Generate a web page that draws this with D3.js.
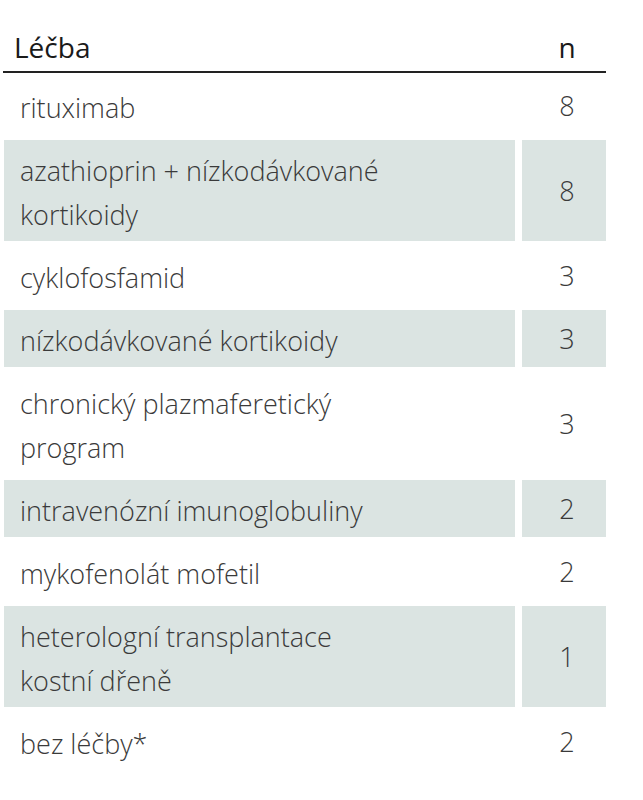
<!DOCTYPE html>
<html><head><meta charset="utf-8">
<script src="https://cdn.jsdelivr.net/npm/d3@7"></script>
<style>body{margin:0;background:#fff}</style>
</head><body><svg id="tbl" width="643" height="800"></svg>
<script>
var headers = ["Léčba", "n"];
var treatments = [
    ["rituximab"],
    ["azathioprin + nízkodávkované", "kortikoidy"],
    ["cyklofosfamid"],
    ["nízkodávkované kortikoidy"],
    ["chronický plazmaferetický", "program"],
    ["intravenózní imunoglobuliny"],
    ["mykofenolát mofetil"],
    ["heterologní transplantace", "kostní dřeně"],
    ["bez léčby*"]
];
var counts = [8, 8, 3, 3, 3, 2, 2, 1, 2];

var svg = d3.select("#tbl"),
    tableTop = 74, lineH = 44, pad = 9.5,
    font = "'Open Sans', sans-serif";

// row y positions from line counts
var ys = [], y = tableTop;
treatments.forEach(function (t) {
    var h = t.length * lineH + 2 * pad;
    ys.push({y: y, h: h});
    y += h;
});

svg.append("text").attr("x", 14).attr("y", 58).text(headers[0])
    .attr("font-family", font).attr("font-size", 28).attr("fill", "#1a1a1a");
svg.append("text").attr("x", 567).attr("y", 58).attr("text-anchor", "middle").text(headers[1])
    .attr("font-family", font).attr("font-size", 28).attr("fill", "#1a1a1a");
svg.append("line").attr("x1", 3).attr("x2", 606).attr("y1", 72).attr("y2", 72)
    .attr("stroke", "#222").attr("stroke-width", 2);

var rows = svg.selectAll("g.row").data(treatments).enter().append("g").attr("class", "row")
    .attr("transform", function (d, i) { return "translate(0," + ys[i].y + ")"; });

rows.filter(function (d, i) { return i % 2 === 1; }).each(function (d) {
    var g = d3.select(this), h = d.length * lineH + 2 * pad;
    g.append("rect").attr("x", 4).attr("y", 3).attr("width", 511).attr("height", h - 6).attr("fill", "#dbe4e2");
    g.append("rect").attr("x", 522).attr("y", 3).attr("width", 84).attr("height", h - 6).attr("fill", "#dbe4e2");
});

rows.each(function (d, i) {
    var g = d3.select(this), h = ys[i].h;
    d.forEach(function (line, j) {
        g.append("text").attr("x", 20).attr("y", pad + j * lineH + 34).text(line)
            .attr("font-family", font).attr("font-weight", 300).attr("font-size", 27).attr("fill", "#3a3a3a");
    });
    g.append("text").attr("x", 567).attr("y", h / 2 + 10).attr("text-anchor", "middle").text(counts[i])
        .attr("font-family", font).attr("font-weight", 300).attr("font-size", 27).attr("fill", "#3a3a3a");
});
</script></body></html>
